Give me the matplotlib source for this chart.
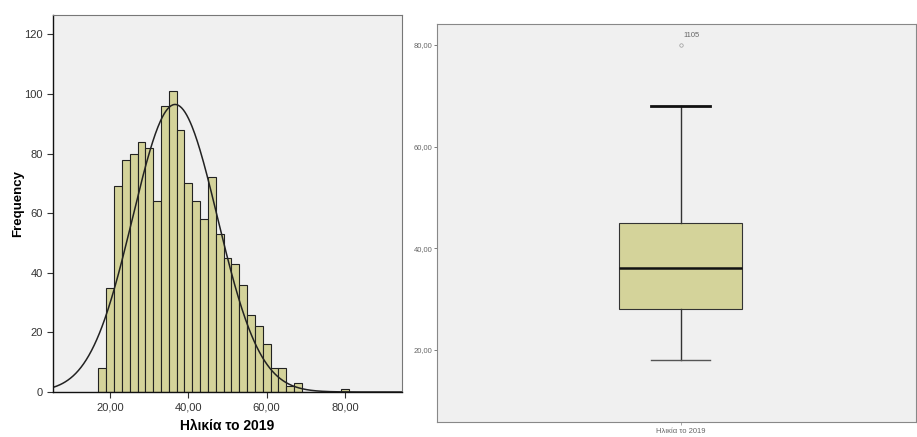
import matplotlib.pyplot as plt
import numpy as np

plt.rcParams['font.family'] = ['Liberation Sans', 'DejaVu Sans']

# histogram of age (bins of width 2, starting at 17)
bin_starts = list(range(17, 81, 2))
counts = [8, 35, 69, 78, 80, 84, 82, 64, 96, 101, 88, 70, 64, 58, 72, 53,
          45, 43, 36, 26, 22, 16, 8, 8, 2, 3, 0, 0, 0, 0, 0, 1]
bin_width = 2

# normal curve parameters
age_mean = 36.6
age_sd = 10.85

# boxplot summary
box_stats = dict(med=36, q1=28, q3=45, whislo=18, whishi=68, fliers=[80], label='Ηλικία το 2019')
outlier_case = '1105'

bar_color = '#d4d39a'
panel_bg = '#f0f0f0'

fig = plt.figure(figsize=(9.17, 4.37), dpi=100)

# ---- histogram
ax1 = fig.add_axes([53/917, 45/437, 349/917, 377/437])
ax1.set_facecolor(panel_bg)
ax1.bar(bin_starts, counts, width=bin_width, align='edge', color=bar_color,
        edgecolor='#222222', linewidth=0.8)
n_total = sum(counts)
xs = np.linspace(5.4, 94.6, 400)
ys = n_total * bin_width / (age_sd * np.sqrt(2 * np.pi)) * np.exp(-(xs - age_mean) ** 2 / (2 * age_sd ** 2))
ax1.plot(xs, ys, color='#222222', linewidth=1.1)
ax1.set_xlim(5.4, 94.6)
ax1.set_ylim(0, 126.5)
ax1.set_yticks([0, 20, 40, 60, 80, 100, 120])
ax1.set_xticks([20, 40, 60, 80])
ax1.set_xticklabels(['20,00', '40,00', '60,00', '80,00'])
ax1.tick_params(labelsize=8, length=4, width=0.8, color='#333333', labelcolor='#333333')
ax1.set_xlabel('Ηλικία το 2019', fontsize=10, fontweight='bold', labelpad=5)
ax1.set_ylabel('Frequency', fontsize=9.5, fontweight='bold')
ax1.yaxis.set_label_coords(-0.083, 0.5)
for s in ['left', 'bottom']:
    ax1.spines[s].set_color('#111111')
    ax1.spines[s].set_linewidth(1.0)
for s in ['top', 'right']:
    ax1.spines[s].set_color('#777777')
    ax1.spines[s].set_linewidth(0.8)

# ---- boxplot
ax2 = fig.add_axes([437/917, 15/437, 479/917, 398/437])
ax2.set_facecolor(panel_bg)
bp = ax2.bxp([box_stats], positions=[0], widths=0.508, capwidths=0.246, patch_artist=True,
             boxprops=dict(facecolor=bar_color, edgecolor='#333333', linewidth=0.8),
             medianprops=dict(color='#111111', linewidth=1.8),
             whiskerprops=dict(color='#333333', linewidth=1.0),
             capprops=dict(color='#222222', linewidth=1.3),
             flierprops=dict(marker='o', markersize=2.5, markerfacecolor='none',
                             markeredgecolor='#999999', markeredgewidth=0.5))
# lower cap is thinner than the upper one in the original
bp['caps'][0].set_color('#555555')
bp['caps'][0].set_linewidth(1.0)
bp['caps'][1].set_color('#111111')
bp['caps'][1].set_linewidth(2.0)
ax2.annotate(outlier_case, xy=(0, box_stats['fliers'][0]), xytext=(2, 7), textcoords='offset points',
             fontsize=5.5, color='#666666', va='center')
ax2.set_xlim(-1, 0.967)
ax2.set_ylim(5.8, 84.1)
ax2.set_yticks([20, 40, 60, 80])
ax2.set_yticklabels(['20,00', '40,00', '60,00', '80,00'])
ax2.tick_params(axis='y', labelsize=5.5, length=2.5, width=0.6, labelcolor='#666666', color='#666666', pad=1)
ax2.tick_params(axis='x', labelsize=5.5, length=2, width=0.6, labelcolor='#666666', color='#999999', pad=2)
for s in ax2.spines.values():
    s.set_color('#888888')
    s.set_linewidth(0.8)

fig.savefig('out.png', dpi=100, facecolor='white')
